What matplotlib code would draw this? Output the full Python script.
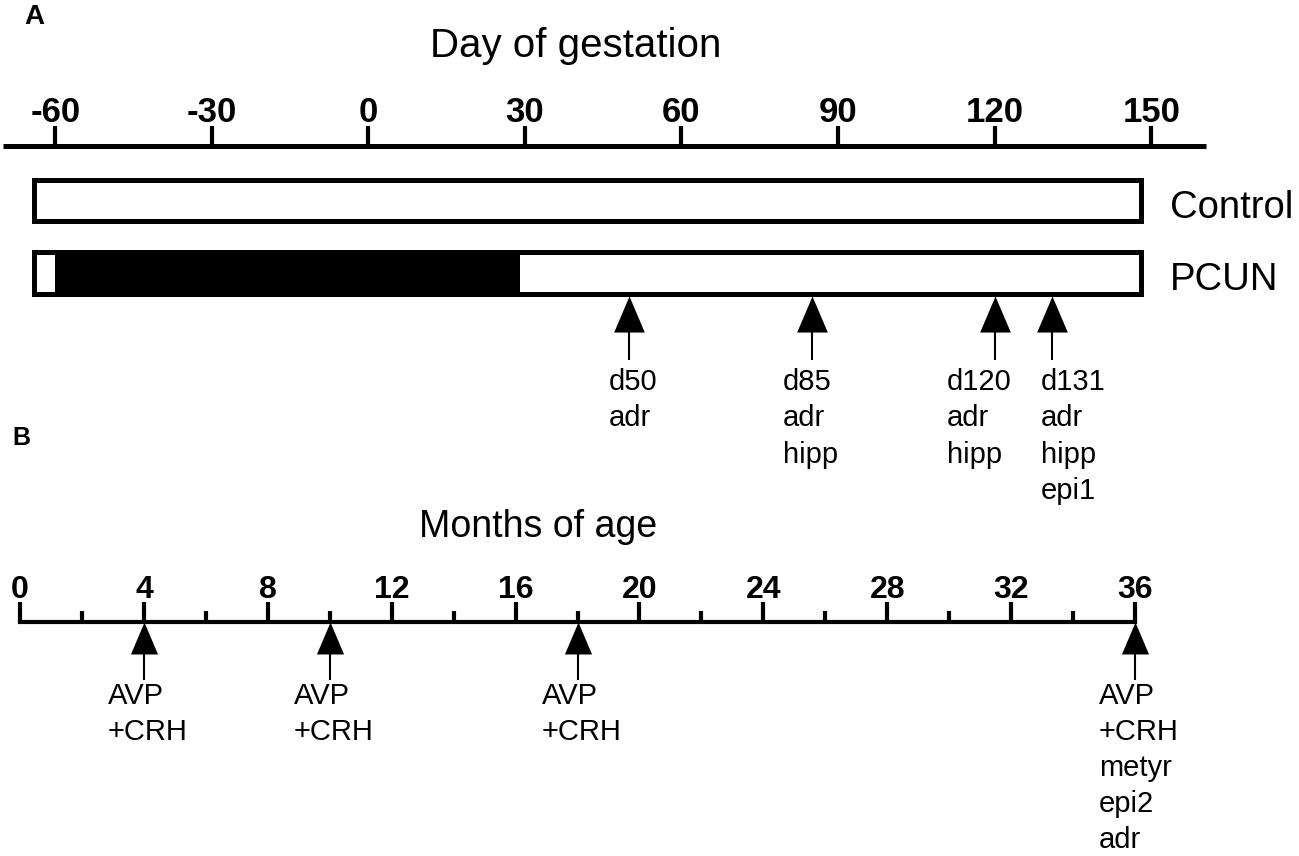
import matplotlib.pyplot as plt
from matplotlib import font_manager

plt.rcParams['font.family'] = ['Liberation Sans', 'DejaVu Sans']

# ---- panel A: day of gestation ----
day_ticks = [-60, -30, 0, 30, 60, 90, 120, 150]
day_labels = ['-60', '-30', '0', '30', '60', '90', '120', '150']
groups = ['Control', 'PCUN']
group_start = [-64, -64]
group_end = [148, 148]
under_start = -60   # black period for PCUN
under_end = 29
sample_days = [50, 85, 120, 131]
sample_text = [['d50', 'adr'],
               ['d85', 'adr', 'hipp'],
               ['d120', 'adr', 'hipp'],
               ['d131', 'adr', 'hipp', 'epi1']]

# ---- panel B: months of age ----
month_major = [0, 4, 8, 12, 16, 20, 24, 28, 32, 36]
month_minor = [2, 6, 10, 14, 18, 22, 26, 30, 34]
test_months = [4, 10, 18, 36]
test_text = [['AVP', '+CRH'],
             ['AVP', '+CRH'],
             ['AVP', '+CRH'],
             ['AVP', '+CRH', 'metyr', 'epi2', 'adr']]

W, H = 1299, 856
fig = plt.figure(figsize=(W / 100, H / 100), dpi=100)


def px_axes(left, top, right, bottom):
    # axes placed in pixel rows/cols, y data = pixel row
    ax = fig.add_axes([left / W, 1 - bottom / H, (right - left) / W, (bottom - top) / H])
    ax.set_ylim(bottom, top)
    ax.patch.set_visible(False)
    for s in ['left', 'right', 'bottom']:
        ax.spines[s].set_visible(False)
    ax.set_yticks([])
    ax.xaxis.set_ticks_position('top')
    return ax


# triangle marker, taller than wide
tri = [(0, 1), (-0.85, -1), (0.85, -1)]

try:
    font_manager.findfont(font_manager.FontProperties(family='Liberation Sans Narrow'),
                          fallback_to_default=False)
    grp_font = dict(family=['Liberation Sans Narrow', 'Liberation Sans'], fontsize=34)
except ValueError:
    grp_font = dict(family=['Liberation Sans'], fontsize=27.5)

#%% panel A
axA = px_axes(3, 146, 1206, 520)
axA.set_xlim(-70, 160.5)
axA.spines['top'].set_linewidth(3.6)
axA.spines['top'].set_capstyle('butt')
axA.set_xticks(day_ticks, labels=day_labels, fontweight='bold', fontsize=25)
axA.tick_params(axis='x', direction='out', length=14.4, width=3, pad=-2)

rows_y = [200.5, 272.5]
for i, g in enumerate(groups):
    y = rows_y[i]
    axA.barh(y, group_end[i] - group_start[i], left=group_start[i], height=41,
             color='white', linewidth=0, zorder=1)
    if g == 'PCUN':
        axA.barh(y, under_end - under_start, left=under_start, height=42,
                 color='black', linewidth=0, zorder=2)
    axA.barh(y, group_end[i] - group_start[i], left=group_start[i], height=41 + i,
             facecolor='none', edgecolor='black', linewidth=3.6, zorder=3)
    axA.annotate(g, xy=(group_end[i], y), xytext=(29, -17), textcoords='offset pixels',
                 ha='left', va='baseline', **grp_font)

dxA = [-21, -29, -48, -11]
for k, d in enumerate(sample_days):
    axA.plot(d, 314, marker=tri, ms=26, color='black', mew=0, clip_on=False)
    axA.vlines(d, 330, 360, color='black', lw=1.5, clip_on=False)
    for j, line in enumerate(sample_text[k]):
        axA.annotate(line, xy=(d, 390 + 36.5 * j), xytext=(dxA[k], 0),
                     textcoords='offset pixels', ha='left', va='baseline', fontsize=21,
                     annotation_clip=False)

#%% panel B
axB = px_axes(20, 622, 1135, 856)
axB.set_xlim(0, 36)
axB.spines['top'].set_linewidth(3)
axB.spines['top'].set_capstyle('projecting')
axB.set_xticks(month_major, labels=[str(m) for m in month_major], fontweight='bold', fontsize=23)
axB.set_xticks(month_minor, minor=True)
axB.tick_params(axis='x', which='major', direction='out', length=14.4, width=3, pad=-2)
axB.tick_params(axis='x', which='minor', direction='out', length=8, width=3)

for k, m in enumerate(test_months):
    axB.plot(m, 638, marker=tri, ms=23, color='black', mew=0, clip_on=False)
    axB.vlines(m, 650, 680, color='black', lw=1.5, clip_on=False)
    for j, line in enumerate(test_text[k]):
        axB.annotate(line, xy=(m, 704 + 36 * j), xytext=(-36, 0),
                     textcoords='offset pixels', ha='left', va='baseline', fontsize=21,
                     annotation_clip=False)

fig.text(24 / W, 1 - 24 / H, 'A', fontweight='bold', fontsize=20, ha='left', va='baseline')
fig.text(12 / W, 1 - 445 / H, 'B', fontweight='bold', fontsize=18, ha='left', va='baseline')
fig.text(576 / W, 1 - 57 / H, 'Day of gestation', fontsize=29, ha='center', va='baseline')
fig.text(538 / W, 1 - 537 / H, 'Months of age', fontsize=27, ha='center', va='baseline')

fig.savefig('out.png', dpi=100)
